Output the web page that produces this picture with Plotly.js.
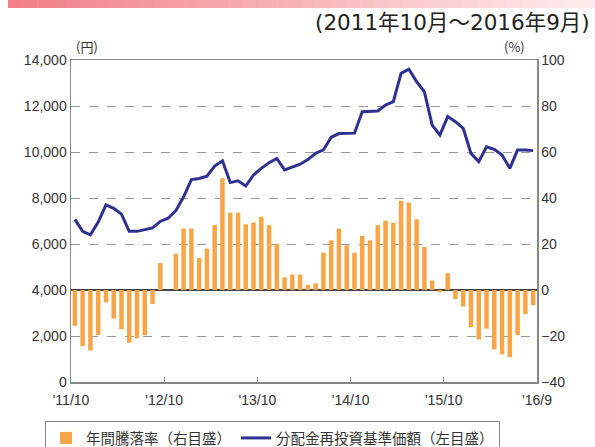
<!DOCTYPE html>
<html><head><meta charset="utf-8">
<script src="https://cdn.plot.ly/plotly-3.0.1.min.js"></script>
<style>html,body{margin:0;padding:0;background:#fff}#c{width:595px;height:447px}</style>
</head><body><div id="c"></div>
<script>
// Annual return (%), right axis, Oct 2011 - Sep 2016
const rate = [-15.6,-24.4,-26.3,-19.6,-5.4,-12.4,-17.1,-22.9,-21.0,-19.6,
  -6.1,11.7,0,15.8,26.7,26.7,13.9,18.0,28.2,48.6,
  33.6,33.6,28.6,29.3,31.8,28.2,20.1,5.5,6.7,6.7,
  2.2,2.9,16.2,21.6,26.7,19.4,16.2,23.5,21.6,28.2,
  30.1,29.3,38.8,38.0,30.7,18.7,4.1,-1.0,7.3,-3.9,
  -7.2,-16.1,-21.5,-16.8,-25.8,-28.0,-29.2,-19.6,-10.5,-6.6];
// NAV with dividends reinvested (yen), left axis
const nav = [7070,6550,6400,6950,7700,7550,7300,6550,6550,6620,
  6700,6980,7120,7450,8050,8800,8850,8950,9390,9620,
  8670,8750,8520,9000,9290,9530,9720,9220,9330,9470,
  9670,9940,10090,10640,10800,10820,10820,11750,11770,11780,
  12040,12190,13420,13600,13060,12620,11170,10740,11540,11320,
  11030,9940,9580,10230,10120,9870,9290,10090,10090,10060];
const tickPos = [0,12,24,36,48,60];
const tickLabels = ["'11/10","'12/10","'13/10","'14/10","'15/10","'16/9"];
const seriesNames = ["年間騰落率（右目盛）","分配金再投資基準価額（左目盛）"];
const periodText = "(2011年10月～2016年9月)";

const xs = rate.map((_, i) => i + 0.5);
const font = "Liberation Sans, Arial, sans-serif";
const jfont = "Noto Sans CJK JP, sans-serif";

// banner gradient shapes
const shapes = [];
const N = 40;
for (let k = 0; k < N; k++) {
  const t = k / (N - 1);
  const r = Math.round(240 + (255 - 240) * t);
  const g = Math.round(128 + (235 - 128) * t);
  const b = Math.round(134 + (237 - 134) * t);
  shapes.push({type:'rect', xref:'paper', yref:'paper', layer:'below',
    x0: (8 - 71 + k * (587 / N)) / 466, x1: (8 - 71 + (k + 1) * (587 / N) + 0.5) / 466,
    y0: (382 - 8) / 322, y1: (382 + 2) / 322,
    fillcolor: `rgb(${r},${g},${b})`, line: {width: 0}});
}

const traces = [
  {type:'bar', x: xs, y: rate, yaxis:'y2', name: seriesNames[0],
   marker:{color:'#F7A546'}, width:0.58},
  {type:'scatter', mode:'lines', x: xs, y: nav, yaxis:'y', name: seriesNames[1],
   line:{color:'#2E3192', width:3}}
];

const layout = {
  width:595, height:447,
  margin:{l:71, r:58, t:60, b:65, autoexpand:false},
  paper_bgcolor:'#fff', plot_bgcolor:'rgba(0,0,0,0)',
  font:{family:font, size:14, color:'#333'},
  showlegend:true,
  legend:{orientation:'h', xref:'container', yref:'container',
    x:45/595, xanchor:'left', y:(447-421)/447, yanchor:'top',
    bordercolor:'#888', borderwidth:1, font:{family:jfont, size:14.5, color:'#333'},
    traceorder:'normal', itemwidth:30, tracegroupgap:0},
  bargap:0.2,
  xaxis:{range:[0,60], tickvals:tickPos, ticktext:tickLabels, ticks:'inside', ticklen:5,
    tickcolor:'#888', showline:true, linecolor:'#888', linewidth:1.5, mirror:true,
    showgrid:false, zeroline:false, tickfont:{size:14, color:'#333'}, fixedrange:true,
    ticklabelstandoff:5},
  yaxis:{range:[0,14000], dtick:2000, tickformat:',', showline:true, linecolor:'#888',
    linewidth:1.5, showgrid:true, gridcolor:'#999', griddash:'dash', gridwidth:1,
    zeroline:false, ticks:'', tickfont:{size:14, color:'#333'}},
  yaxis2:{range:[-40,100], dtick:20, overlaying:'y', side:'right', showline:true,
    linecolor:'#888', linewidth:1.5, showgrid:false, zeroline:true, zerolinecolor:'#444',
    zerolinewidth:1.5, ticks:'', tickfont:{size:14, color:'#333'}},
  shapes: shapes,
  annotations:[
    {text:periodText, xref:'paper', yref:'paper', x:(592-71)/466, y:(382-22)/322,
     xanchor:'right', yanchor:'middle', showarrow:false,
     font:{family:"DejaVu Sans, Noto Sans CJK JP, sans-serif", size:21.5, color:'#222'}},
    {text:'(円)', xref:'paper', yref:'paper', x:(74-71)/466, y:(382-46)/322,
     xanchor:'left', yanchor:'middle', showarrow:false, font:{family:jfont, size:13, color:'#333'}},
    {text:'(%)', xref:'paper', yref:'paper', x:(527-71)/466, y:(382-46)/322,
     xanchor:'right', yanchor:'middle', showarrow:false, font:{family:jfont, size:13, color:'#333'}}
  ]
};
Plotly.newPlot('c', traces, layout, {staticPlot:true, displayModeBar:false});
</script></body></html>
